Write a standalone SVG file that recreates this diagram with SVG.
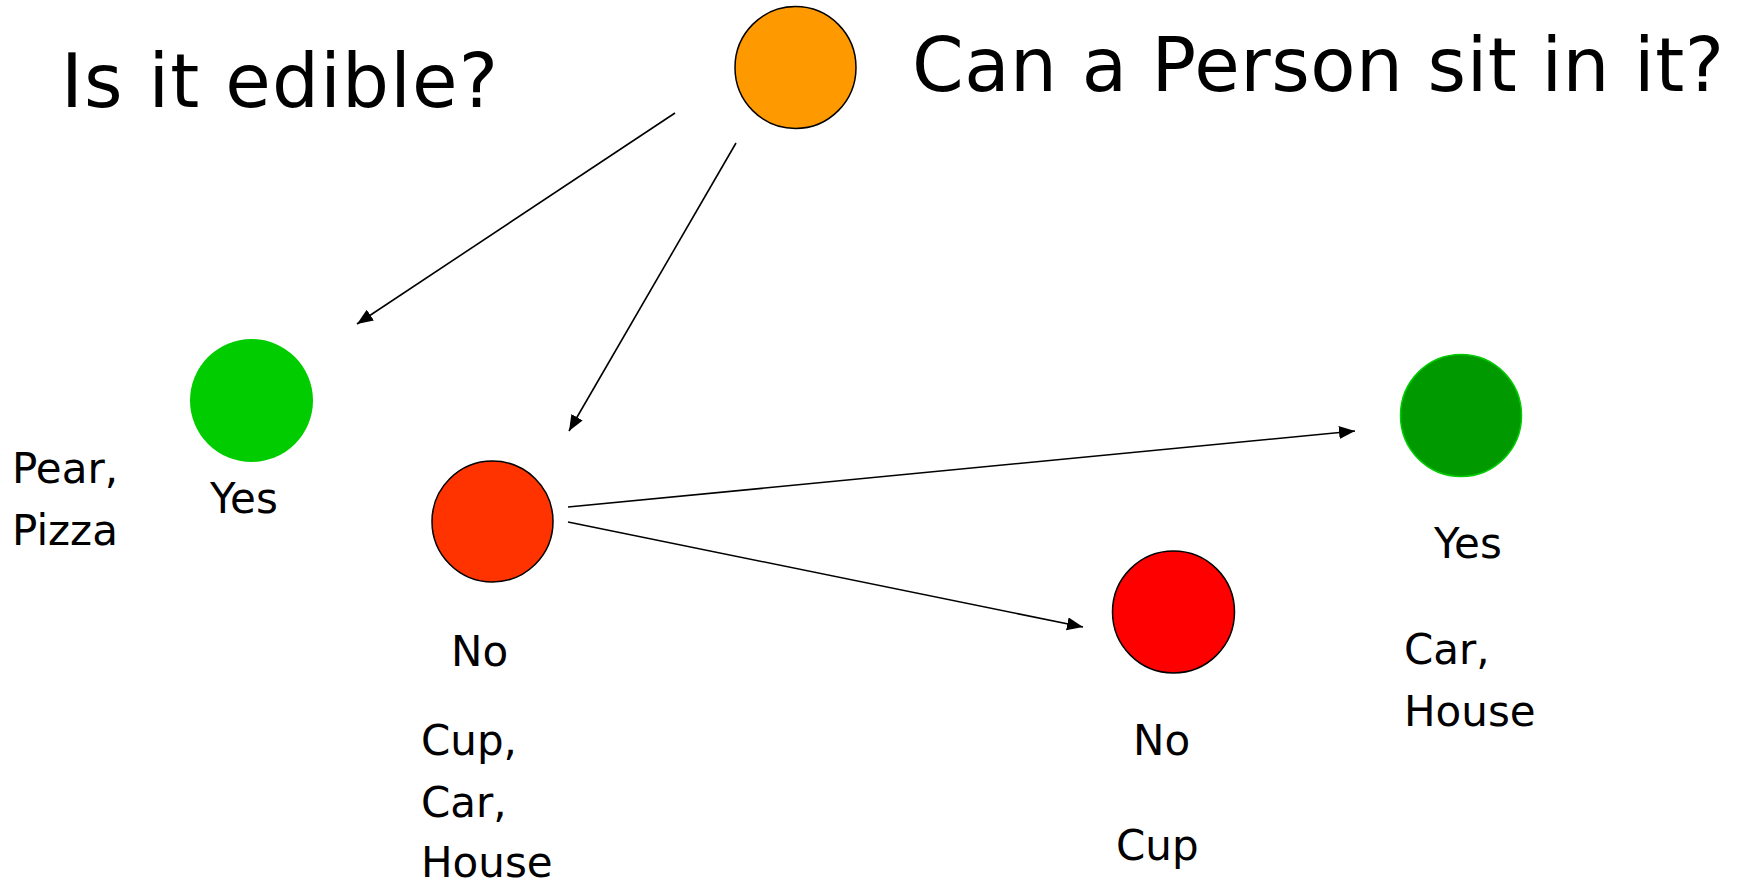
<svg xmlns="http://www.w3.org/2000/svg" width="1743" height="883" viewBox="0 0 1743 883">
<style>
.big{font-family:"DejaVu Sans",Verdana,sans-serif;font-size:74px;fill:#000}
.lbl{font-family:"DejaVu Sans",Verdana,sans-serif;font-size:42px;fill:#000}
.edge{stroke:#000;stroke-width:1.6;fill:none;marker-end:url(#arr)}
.node{stroke:#000;stroke-width:1.5}
</style>
<defs>
<marker id="arr" markerUnits="userSpaceOnUse" markerWidth="18" markerHeight="14" refX="16" refY="6.5" orient="auto">
<path d="M0,0 L16,6.5 L0,13 Z" fill="#000"/>
</marker>
</defs>
<rect width="1743" height="883" fill="#fff"/>
<text class="big" x="61" y="107" textLength="437" lengthAdjust="spacing">Is it edible?</text>
<text class="big" x="912" y="91" textLength="812" lengthAdjust="spacing">Can a Person sit in it?</text>
<g id="connectors">
<line class="edge" x1="675" y1="113" x2="357" y2="324"/>
<line class="edge" x1="736" y1="143" x2="569" y2="431"/>
<line class="edge" x1="568" y1="507" x2="1355" y2="431"/>
<line class="edge" x1="568" y1="522" x2="1083" y2="627"/>
</g>
<g id="root"><ellipse class="node" cx="795.5" cy="67.5" rx="60.5" ry="61" fill="#FF9900"/></g>
<g id="edible-yes">
<ellipse cx="251.5" cy="400.5" rx="61.5" ry="61.5" fill="#00CC00"/>
<text class="lbl" x="210" y="513">Yes</text>
<text class="lbl" x="12" y="483">Pear,</text>
<text class="lbl" x="12" y="545">Pizza</text>
</g>
<g id="edible-no">
<ellipse class="node" cx="492.5" cy="521.5" rx="60.5" ry="60.5" fill="#FF3300"/>
<text class="lbl" x="451" y="666">No</text>
<text class="lbl" x="421" y="755">Cup,</text>
<text class="lbl" x="421" y="817">Car,</text>
<text class="lbl" x="421" y="877">House</text>
</g>
<g id="sit-yes">
<ellipse cx="1461" cy="415.5" rx="60.5" ry="61" fill="#009900" stroke="#00CC00" stroke-width="1.5"/>
<text class="lbl" x="1434" y="558">Yes</text>
<text class="lbl" x="1404" y="664">Car,</text>
<text class="lbl" x="1404" y="726">House</text>
</g>
<g id="sit-no">
<ellipse class="node" cx="1173.5" cy="612" rx="61" ry="61" fill="#FF0000"/>
<text class="lbl" x="1133" y="755">No</text>
<text class="lbl" x="1116" y="860">Cup</text>
</g>
</svg>
